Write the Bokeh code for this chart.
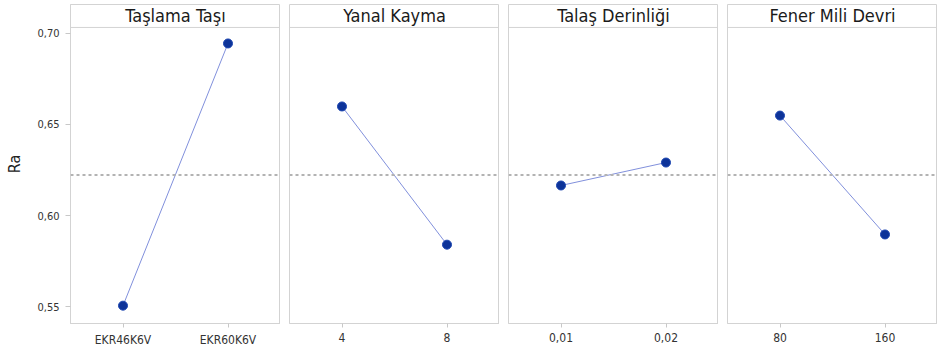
from bokeh.plotting import figure
from bokeh.layouts import row
from bokeh.models import FactorRange, Range1d, Span, Label, FixedTicker
from bokeh.embed import file_html
from bokeh.resources import INLINE

# ---- data ----
titles = ["Taşlama Taşı", "Yanal Kayma", "Talaş Derinliği", "Fener Mili Devri"]
levels_1 = ["EKR46K6V", "EKR60K6V"]
levels_2 = ["4", "8"]
levels_3 = ["0,01", "0,02"]
levels_4 = ["80", "160"]
means_1 = [0.5505, 0.6945]
means_2 = [0.6599, 0.5840]
means_3 = [0.6165, 0.6291]
means_4 = [0.6549, 0.5896]
grand_mean = 0.6222
y_ticks = [0.55, 0.60, 0.65, 0.70]
y_tick_labels = ["0,55", "0,60", "0,65", "0,70"]
y_label = "Ra"

levels_all = [levels_1, levels_2, levels_3, levels_4]
means_all = [means_1, means_2, means_3, means_4]

# ---- style ----
NARROW = "Liberation Sans Narrow, DejaVu Sans Condensed, Open Sans, sans-serif"
BORDER = "#d3d3d3"
y_bottom, y_top = 0.5407, 0.7159
header_y = 0.7033

yr = Range1d(y_bottom, y_top)
plots = []
for i, (title, levels, vals) in enumerate(zip(titles, levels_all, means_all)):
    p = figure(
        x_range=FactorRange(*levels), y_range=yr,
        frame_width=210, frame_height=319,
        min_border_top=4, min_border_bottom=24,
        min_border_left=70 if i == 0 else 9,
        min_border_right=0,
        y_axis_location="left" if i == 0 else None,
        output_backend="svg", toolbar_location=None,
    )
    p.xgrid.visible = False
    p.ygrid.visible = False
    p.outline_line_color = BORDER
    p.outline_line_width = 1
    p.background_fill_color = "white"
    p.border_fill_color = "white"

    p.add_layout(Span(location=grand_mean, dimension="width",
                      line_color="#b3b3b3", line_dash="3 3", line_width=2))
    p.add_layout(Span(location=header_y, dimension="width",
                      line_color=BORDER, line_width=1))
    p.add_layout(Label(x=1.0, y=(header_y + y_top) / 2, text=title,
                       text_align="center", text_baseline="middle",
                       text_font=NARROW, text_font_size="18px",
                       text_color="#1a1a1a"))

    p.line(x=levels, y=vals, line_color="#8190dc", line_width=1)
    p.scatter(x=levels, y=vals, size=9, fill_color="#0d3399",
              line_color="#1a44b0", line_width=1)

    xa = p.xaxis[0]
    xa.axis_line_color = BORDER
    xa.major_tick_line_color = "#c8c8c8"
    xa.major_tick_out = 4
    xa.major_tick_in = 0
    xa.major_label_standoff = 5
    xa.major_label_text_font = NARROW
    xa.major_label_text_font_size = "12px"
    xa.major_label_text_color = "#333333"

    if i == 0:
        ya = p.yaxis[0]
        ya.ticker = FixedTicker(ticks=y_ticks)
        ya.major_label_overrides = {t: l for t, l in zip(y_ticks, y_tick_labels)}
        ya.minor_tick_line_color = None
        ya.axis_line_color = BORDER
        ya.major_tick_line_color = "#c8c8c8"
        ya.major_tick_out = 5
        ya.major_tick_in = 0
        ya.major_label_standoff = 6
        ya.major_label_text_font = NARROW
        ya.major_label_text_font_size = "11px"
        ya.major_label_text_color = "#333333"
        ya.axis_label = y_label
        ya.axis_label_text_font = NARROW
        ya.axis_label_text_font_size = "16px"
        ya.axis_label_text_font_style = "normal"
        ya.axis_label_text_color = "#222222"
        ya.axis_label_standoff = 10
    plots.append(p)

layout = row(*plots)
open("out.html", "w").write(file_html(layout, INLINE))
